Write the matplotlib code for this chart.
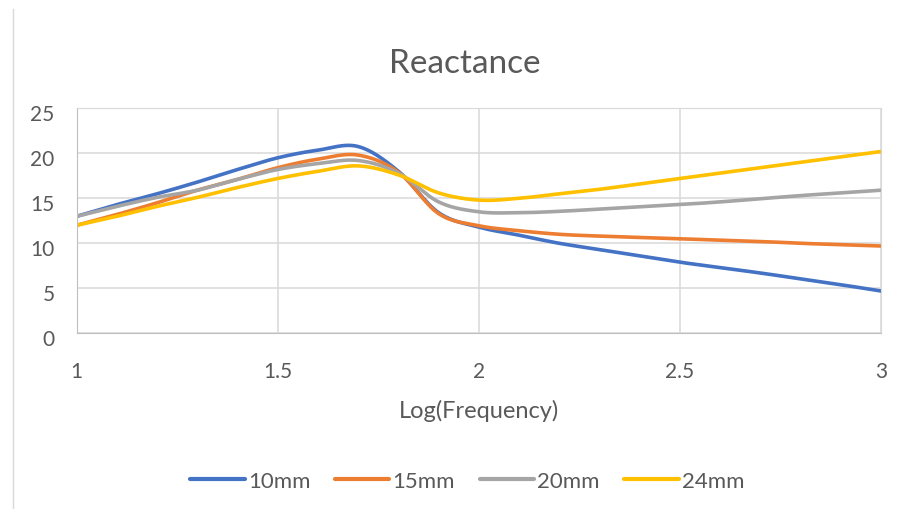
import numpy as np
import matplotlib
matplotlib.use("Agg")
import matplotlib.pyplot as plt
import matplotlib.transforms as mtrans

plt.rcParams['font.family'] = ['Lato', 'DejaVu Sans']

# log10 of frequency
log_freq = [1.0, 1.1, 1.2, 1.3, 1.4, 1.5, 1.6, 1.7, 1.8, 1.9, 2.0,
            2.1, 2.2, 2.3, 2.4, 2.5, 2.6, 2.7, 2.8, 2.9, 3.0]
x_ticks = [1, 1.5, 2, 2.5, 3]
x_labels = ["1", "1.5", "2", "2.5", "3"]
y_ticks = [0, 5, 10, 15, 20, 25]

labels = ["10mm", "15mm", "20mm", "24mm"]
x_10mm = [13.0, 14.3, 15.5, 16.8, 18.2, 19.5, 20.35, 20.75, 18.0, 13.4, 11.8,
          10.9, 10.0, 9.3, 8.6, 7.9, 7.3, 6.7, 6.05, 5.4, 4.7]
x_15mm = [12.0, 13.2, 14.5, 15.9, 17.1, 18.4, 19.35, 19.8, 17.9, 13.3, 11.95,
          11.4, 11.0, 10.8, 10.65, 10.5, 10.35, 10.2, 10.0, 9.85, 9.7]
x_20mm = [13.0, 14.1, 15.1, 15.9, 17.1, 18.2, 18.85, 19.2, 17.8, 14.6, 13.5,
          13.4, 13.55, 13.8, 14.05, 14.3, 14.6, 14.95, 15.3, 15.6, 15.9]
x_24mm = [12.0, 13.0, 14.1, 15.1, 16.2, 17.2, 18.0, 18.6, 17.6, 15.6, 14.8,
          15.0, 15.5, 16.0, 16.6, 17.2, 17.8, 18.4, 19.0, 19.6, 20.2]
colors = ["#4472C4", "#ED7D31", "#A5A5A5", "#FFC000"]


def smooth(xs, ys, sx=402.3, sy=9.0, n=30):
    # Excel-like smoothed line: bezier with control points from neighbours
    p = np.column_stack([np.array(xs) * sx, np.array(ys) * sy])
    pts = np.vstack([p[0], p, p[-1]])
    out = []
    t = np.linspace(0, 1, n)[:, None]
    for i in range(1, len(pts) - 2):
        p0, p1, p2, p3 = pts[i - 1], pts[i], pts[i + 1], pts[i + 2]
        c1 = p1 + (p2 - p0) / 6
        c2 = p2 - (p3 - p1) / 6
        seg = ((1 - t) ** 3) * p1 + 3 * ((1 - t) ** 2) * t * c1 \
            + 3 * (1 - t) * t ** 2 * c2 + t ** 3 * p2
        out.append(seg)
    out = np.vstack(out)
    return out[:, 0] / sx, out[:, 1] / sy


fig = plt.figure(figsize=(9.04, 5.10), dpi=100)
ax = fig.add_axes([0.0848, 0.3445, 0.8898, 0.4412])

for ys, lab, c in zip([x_10mm, x_15mm, x_20mm, x_24mm], labels, colors):
    sx, sy = smooth(log_freq, ys)
    ax.plot(sx, sy, color=c, lw=2.6, label=lab, solid_capstyle='round')

ax.set_xlim(1, 3)
ax.set_ylim(0, 25)
ax.set_xticks(x_ticks)
ax.set_xticklabels(x_labels)
ax.set_yticks(y_ticks)
ax.grid(True, color="#D9D9D9", lw=1.1)
ax.set_axisbelow(True)
for s in ax.spines.values():
    s.set_color("#D9D9D9")
ax.spines['left'].set_color("#BFBFBF")
ax.spines['bottom'].set_color("#BFBFBF")
ax.tick_params(length=0, labelsize=15, colors="#595959")
ax.tick_params(axis='x', pad=20)
ax.tick_params(axis='y', pad=16)
off = mtrans.ScaledTranslation(0, -4 / 100, fig.dpi_scale_trans)
for lbl in ax.get_yticklabels():
    lbl.set_transform(lbl.get_transform() + off)

fig.text(0.514, 0.875, "Reactance", fontsize=24, color="#595959",
         ha='center', va='center')
fig.text(0.530, 0.194, "Log(Frequency)", fontsize=17, color="#595959",
         ha='center', va='center')

leg = fig.legend(loc='center', bbox_to_anchor=(0.517, 0.055), ncol=4, frameon=False,
                 fontsize=16, handlelength=2.45, columnspacing=1.1, handletextpad=0.15)
for t in leg.get_texts():
    t.set_color("#595959")
for h in leg.get_lines():
    h.set_linewidth(3)

# chart border on the left
fig.add_artist(plt.Line2D([0.0144, 0.0144], [0.0, 0.98], color="#D9D9D9", lw=1))

fig.savefig("out.png", dpi=100)
